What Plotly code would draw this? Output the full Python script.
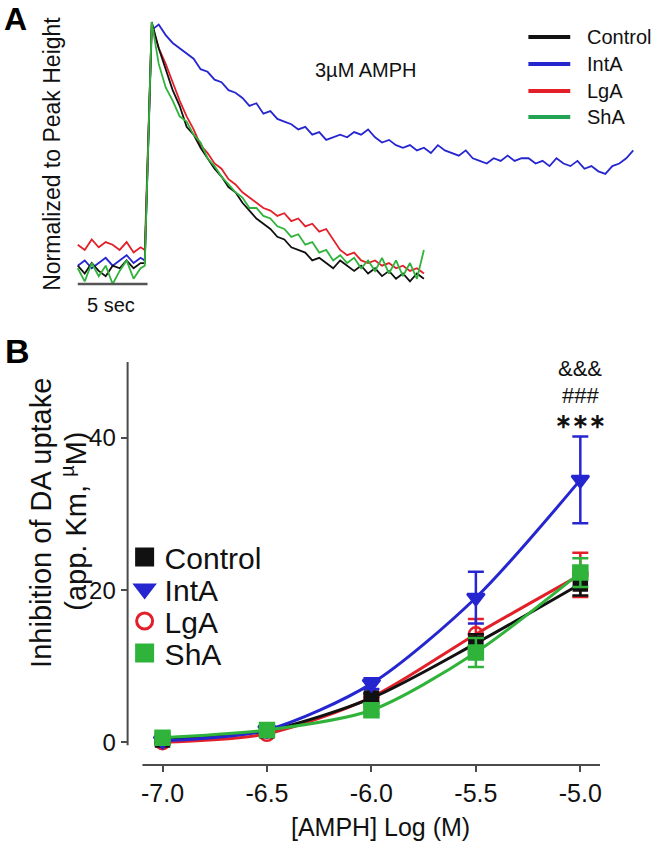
import plotly.graph_objects as go

W, H = 658, 844
FONT = "Liberation Sans, Arial, sans-serif"

# ---------------- Panel A: normalized amperometric traces (3 µM AMPH) ----------------
# values sampled every 0.5 s on baseline, then rise (4.8 s), peak (5.3 s), then every 0.5 s
series_names = ["Control", "IntA", "LgA", "ShA"]

control_trace = [0.07, 0.04, 0.08, 0.05, 0.03, 0.07, 0.06, 0.09, 0.06, 0.08,
                 0.08, 1.00,
                 0.90, 0.82, 0.74, 0.68, 0.60, 0.57, 0.52, 0.48, 0.44, 0.41,
                 0.37, 0.35, 0.31, 0.28, 0.25, 0.23, 0.21, 0.18, 0.17, 0.14,
                 0.13, 0.12, 0.09, 0.10, 0.08, 0.06, 0.09, 0.07, 0.05, 0.07,
                 0.04, 0.06, 0.03, 0.05, 0.02, 0.04, 0.01, 0.04, 0.02]

lga_trace = [0.15, 0.13, 0.17, 0.14, 0.16, 0.15, 0.13, 0.16, 0.12, 0.14,
             0.13, 0.99,
             0.90, 0.84, 0.77, 0.70, 0.64, 0.59, 0.53, 0.50, 0.46, 0.44,
             0.40, 0.38, 0.35, 0.33, 0.31, 0.29, 0.28, 0.26, 0.27, 0.24,
             0.25, 0.22, 0.23, 0.20, 0.21, 0.17, 0.13, 0.11, 0.12, 0.09,
             0.08, 0.09, 0.07, 0.08, 0.06, 0.07, 0.05, 0.06, 0.04]

sha_trace = [0.06, 0.01, 0.08, 0.03, 0.07, 0.00, 0.05, 0.09, 0.02, 0.06,
             0.07, 1.00,
             0.84, 0.75, 0.70, 0.64, 0.62, 0.57, 0.54, 0.48, 0.45, 0.41,
             0.38, 0.35, 0.33, 0.29, 0.29, 0.26, 0.25, 0.22, 0.21, 0.18,
             0.19, 0.15, 0.16, 0.12, 0.13, 0.09, 0.11, 0.08, 0.10, 0.06,
             0.09, 0.05, 0.10, 0.04, 0.09, 0.03, 0.08, 0.02, 0.13]

inta_trace = [0.07, 0.09, 0.06, 0.08, 0.10, 0.07, 0.09, 0.11, 0.08, 0.10,
              0.09, 0.97,
              0.99, 0.95, 0.92, 0.90, 0.88, 0.86, 0.82, 0.81, 0.78, 0.77,
              0.74, 0.73, 0.71, 0.68, 0.69, 0.65, 0.66, 0.63, 0.62, 0.61,
              0.59, 0.60, 0.57, 0.58, 0.55, 0.56, 0.57, 0.56, 0.58, 0.57,
              0.59, 0.56, 0.54, 0.55, 0.53, 0.52, 0.53, 0.51, 0.52,
              0.50, 0.53, 0.51, 0.50, 0.49, 0.51, 0.48, 0.47, 0.46, 0.48,
              0.47, 0.49, 0.47, 0.48, 0.48, 0.46, 0.47, 0.45, 0.48, 0.46,
              0.45, 0.47, 0.44, 0.45, 0.43, 0.42, 0.45, 0.46, 0.48, 0.51]

# ---------------- Panel B: concentration response ----------------
log_amph = [-7.0, -6.5, -6.0, -5.5, -5.0]
log_amph_labels = ["-7.0", "-6.5", "-6.0", "-5.5", "-5.0"]
km_ticks = [0, 20, 40]
km_tick_labels = ["0", "20", "40"]

control_km = [0.3, 1.5, 5.8, 13.0, 20.8]
control_sem = [0.3, 0.4, 0.6, 1.2, 1.5]
inta_km = [0.2, 1.6, 7.7, 19.0, 34.5]
inta_sem = [0.3, 0.4, 0.7, 3.4, 5.7]
lga_km = [0.0, 1.1, 5.9, 14.2, 22.0]
lga_sem = [0.3, 0.4, 0.5, 2.0, 2.9]
sha_km = [0.6, 1.6, 4.2, 11.8, 22.3]
sha_sem = [0.3, 0.3, 0.5, 1.9, 1.9]

sig_marks = ["&&&", "###", "∗∗∗"]

# colours
C_BLACK = "#111111"
C_BLUE = "#2626d0"
C_RED = "#e3202a"
C_GREEN = "#2fb33a"
C_LEG_GREEN = "#23a455"
C_AXIS = "#4a4a4a"


def trace_times(n):
    t = []
    for i in range(n):
        if i < 10:
            t.append(0.5 * i)
        elif i == 10:
            t.append(4.8)
        else:
            t.append(5.3 + 0.5 * (i - 11))
    return t


def px(x):
    return x / W


def py(y):
    return 1 - y / H


fig = go.Figure()

# Panel A traces
for vals, col in [(inta_trace, C_BLUE), (lga_trace, C_RED),
                  (control_trace, C_BLACK), (sha_trace, C_GREEN)]:
    fig.add_trace(go.Scatter(x=trace_times(len(vals)), y=vals, mode="lines",
                             line=dict(color=col, width=1.8),
                             xaxis="x", yaxis="y", showlegend=False,
                             hoverinfo="skip"))

# Panel B traces
panel_b = [
    ("LgA", lga_km, lga_sem, C_RED, "circle-open", 14),
    ("Control", control_km, control_sem, C_BLACK, "square", 13),
    ("IntA", inta_km, inta_sem, C_BLUE, "triangle-down", 15),
    ("ShA", sha_km, sha_sem, C_GREEN, "square", 14),
]
for name, vals, sem, col, sym, size in panel_b:
    fig.add_trace(go.Scatter(
        x=log_amph, y=vals, mode="lines+markers", name=name,
        line=dict(color=col, width=3, shape="spline", smoothing=0.8),
        marker=dict(symbol=sym, size=size, color=col,
                    line=dict(color=col, width=2.5)),
        error_y=dict(type="data", array=sem, color=col, thickness=2.5, width=8),
        xaxis="x2", yaxis="y2", showlegend=False))
    if name == "LgA":
        fig.add_trace(go.Scatter(
            x=log_amph, y=vals, mode="markers",
            marker=dict(symbol="line-ew-open", size=11, color=col,
                        line=dict(color=col, width=2.5)),
            xaxis="x2", yaxis="y2", showlegend=False, hoverinfo="skip"))

# Panel B legend (marker-only keys), one legend box per entry for tight spacing
legend_keys = [
    ("Control", C_BLACK, "square", 559),
    ("IntA", C_BLUE, "triangle-down", 591),
    ("LgA", C_RED, "circle-open", 623),
    ("ShA", C_GREEN, "square", 655),
]
legend_layouts = {}
for i, (name, col, sym, yc) in enumerate(legend_keys):
    lname = "legend%d" % (i + 2)
    fig.add_trace(go.Scatter(
        x=[None], y=[None], mode="markers", name=name,
        marker=dict(symbol=sym, size=16, color=col, line=dict(color=col, width=3)),
        xaxis="x2", yaxis="y2", legend=lname, showlegend=True))
    legend_layouts[lname] = dict(x=px(125), y=py(yc - 28), xanchor="left",
                                 yanchor="top", bgcolor="rgba(0,0,0,0)",
                                 font=dict(size=30, color="#111"),
                                 itemsizing="trace")

shapes = []
annotations = []

# scale bar (5 s)
shapes.append(dict(type="line", xref="x", yref="y", x0=0, x1=5, y0=0, y1=0,
                   line=dict(color="#555555", width=2.5)))

# Panel A custom legend
leg_a_y = [37, 64, 91, 117]
leg_a_cols = [C_BLACK, C_BLUE, C_RED, C_LEG_GREEN]
for name, col, yy in zip(series_names, leg_a_cols, leg_a_y):
    shapes.append(dict(type="line", xref="paper", yref="paper",
                       x0=px(530), x1=px(572), y0=py(yy), y1=py(yy),
                       line=dict(color=col, width=4)))
    annotations.append(dict(text=name, xref="paper", yref="paper",
                            x=px(587), y=py(yy), xanchor="left", yanchor="middle",
                            showarrow=False, font=dict(size=20, color="#111")))

# Panel B axis lines (offset Prism style)
shapes.append(dict(type="line", xref="x2 domain", yref="y2", x0=0, x1=0,
                   y0=-0.4, y1=50, line=dict(color=C_AXIS, width=2)))
shapes.append(dict(type="line", xref="x2", yref="y2 domain", x0=-7.096, x1=-4.905,
                   y0=0, y1=0, line=dict(color=C_AXIS, width=2)))

# Texts
annotations += [
    dict(text="<b>A</b>", xref="paper", yref="paper", x=px(2), y=py(19),
         xanchor="left", yanchor="middle", showarrow=False,
         font=dict(size=32, color="#000")),
    dict(text="<b>B</b>", xref="paper", yref="paper", x=px(3), y=py(351),
         xanchor="left", yanchor="middle", showarrow=False,
         font=dict(size=34, color="#000")),
    dict(text="Normalized to Peak Height", xref="paper", yref="paper",
         x=px(52), y=py(154), textangle=-90, showarrow=False,
         xanchor="center", yanchor="middle", font=dict(size=23, color="#111")),
    dict(text="3µM AMPH", xref="paper", yref="paper", x=px(367), y=py(70),
         showarrow=False, xanchor="center", yanchor="middle",
         font=dict(size=20, color="#111")),
    dict(text="5 sec", xref="paper", yref="paper", x=px(111), y=py(305),
         showarrow=False, xanchor="center", yanchor="middle",
         font=dict(size=20, color="#111")),
    dict(text="Inhibition of DA uptake",
         xref="paper", yref="paper", x=px(41), y=py(523), textangle=-90,
         showarrow=False, xanchor="center", yanchor="middle",
         font=dict(size=29, color="#111")),
    dict(text="(app. Km, <sup>µ</sup>M)",
         xref="paper", yref="paper", x=px(74), y=py(521), textangle=-90,
         showarrow=False, xanchor="center", yanchor="middle",
         font=dict(size=29, color="#111")),
    dict(text="[AMPH] Log (M)", xref="paper", yref="paper", x=px(382), y=py(827),
         showarrow=False, xanchor="center", yanchor="middle",
         font=dict(size=25, color="#111")),
]
for mark, yy, fs in zip(sig_marks, [368, 395, 421], [22, 22, 20]):
    annotations.append(dict(text="<b>%s</b>" % mark if mark.startswith("∗") else mark,
                            xref="x2", yref="paper", x=log_amph[-1],
                            y=py(yy), showarrow=False, xanchor="center",
                            yanchor="middle", font=dict(size=fs, color="#111")))

fig.update_layout(
    width=W, height=H,
    margin=dict(l=0, r=0, t=0, b=0),
    paper_bgcolor="white", plot_bgcolor="white",
    font=dict(family=FONT, color="#111"),
    xaxis=dict(domain=[0, 1], range=[-78 / 14, 580 / 14], visible=False,
               anchor="y"),
    yaxis=dict(domain=[py(310), 1], range=[-26 / 262, 284 / 262], visible=False,
               anchor="x"),
    xaxis2=dict(domain=[px(128), px(602)], range=[-7.167, -4.905], anchor="y2",
                showline=False, showgrid=False, zeroline=False,
                tickvals=log_amph, ticktext=log_amph_labels,
                ticks="outside", ticklen=6, tickwidth=2, tickcolor=C_AXIS,
                tickfont=dict(size=25, color="#111")),
    yaxis2=dict(domain=[py(765), py(362)], range=[-3, 50], anchor="x2",
                showline=False, showgrid=False, zeroline=False,
                tickvals=km_ticks, ticktext=km_tick_labels,
                ticks="outside", ticklen=6, tickwidth=2, tickcolor=C_AXIS,
                tickfont=dict(size=24, color="#111")),
    shapes=shapes,
    annotations=annotations,
    **legend_layouts,
)

fig.write_html("out.html",
               config={"displayModeBar": False},
               post_script="document.body.style.margin='0';"
                           "document.body.style.overflow='hidden';")
